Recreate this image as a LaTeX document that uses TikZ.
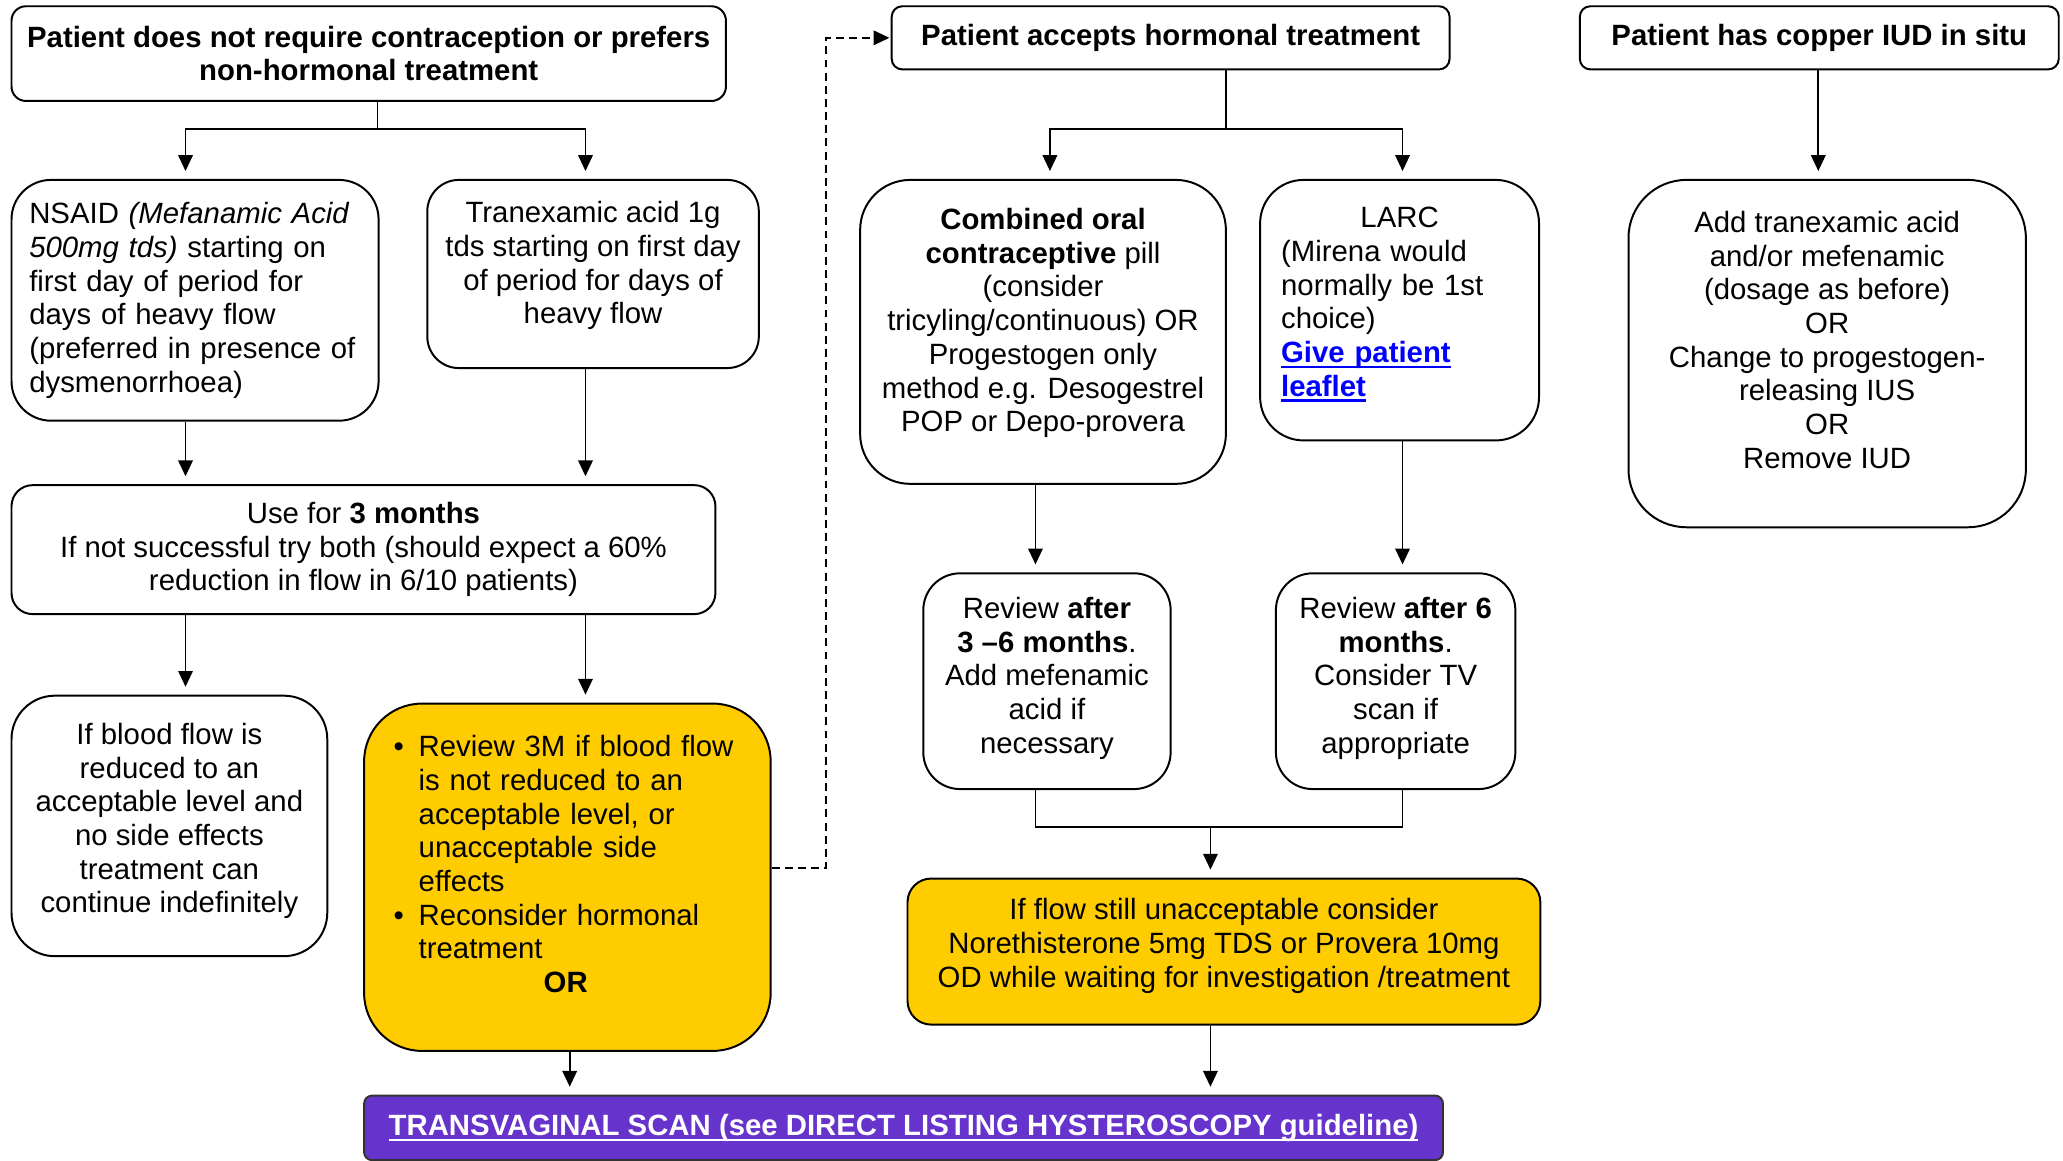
\documentclass[tikz,border=0pt]{standalone}
\usepackage{fontspec}
\setmainfont{Liberation Sans}
\usetikzlibrary{arrows.meta,positioning}

\definecolor{amber}{RGB}{255,204,0}
\definecolor{scanpurple}{RGB}{102,51,204}
\definecolor{linkblue}{RGB}{0,0,255}

% underline sitting just under the baseline
\newcommand{\undl}[1]{\setbox0\hbox{#1}\rlap{\rule[-2.2pt]{\wd0}{0.9pt}}\box0}
% extra depth on the last line lifts the text in its box
\newcommand{\liftup}[1]{\rule[-#1]{0pt}{#1}}
\newcommand{\bulitem}{\makebox[9.5pt][l]{\textbullet}}
\newcommand{\bulind}{\hspace*{9.5pt}}

\begin{document}
\fontsize{11.15}{12.8}\selectfont
\begin{tikzpicture}[
        x=0.5pt, y=-0.5pt,
        flow box/.style={
            draw,
            line width=0.75pt,
            rounded corners=#1,
            inner sep=0pt,
            align=center,
            anchor=north west,
        },
        flow box/.default=8pt,
        hi box/.style={
            flow box=#1,
            fill=amber,
        },
        scan box/.style={
            flow box=3pt,
            draw=black!80,
            fill=scanpurple,
            text=white,
            font=\bfseries,
        },
        pil/.style={
            -{Triangle[length=6pt,width=5.5pt]},
            line width=0.65pt,
            shorten >=3pt
        },
        dash pil/.style={
            pil,
            dash pattern=on 3pt off 2pt,
            shorten >=0.5pt
        },
        lin/.style={line width=0.65pt}
    ]
    \useasboundingbox (0,0) rectangle (1568,882);

    % non-hormonal route
    \node[flow box=5.5pt, minimum width=271.5pt, minimum height=36pt, font=\bfseries] (nohorm) at (8,4)
        {Patient does not require contraception or prefers\\non-hormonal treatment};
    \node[flow box=15pt, minimum width=139.5pt, minimum height=91.5pt, text width=126pt, align=left] (nsaid) at (8,136)
        {NSAID \textit{(Mefanamic Acid}\\\textit{500mg tds)} starting on\\first day of period for\\days of heavy flow\\(preferred in presence of\\dysmenorrhoea)};
    \node[flow box=12pt, minimum width=126pt, minimum height=71.5pt] (tranex) at (324,136)
        {Tranexamic acid 1g\\tds starting on first day\\of period for days of\\heavy flow\liftup{8.5pt}};
    \node[flow box=8pt, minimum width=267.5pt, minimum height=49pt] (threemonths) at (8,368)
        {Use for \textbf{3 months}\\If not successful try both (should expect a 60\%\\reduction in flow in 6/10 patients)};
    \node[flow box=16.5pt, minimum width=120pt, minimum height=99pt] (reduced) at (8,528)
        {If blood flow is\\reduced to an\\acceptable level and\\no side effects\\treatment can\\continue indefinitely\liftup{6pt}};
    \node[hi box=22pt, minimum width=154.5pt, minimum height=132pt, text width=132pt, align=left] (reviewthree) at (276,534)
        {\bulitem Review 3M if blood flow\\
         \bulind is not reduced to an\\
         \bulind acceptable level, or\\
         \bulind unacceptable side\\
         \bulind effects\\
         \bulitem Reconsider hormonal\\
         \bulind treatment\\
         \hspace*{57pt}\textbf{OR}\liftup{10pt}};

    % hormonal route
    \node[flow box=4pt, minimum width=212pt, minimum height=24pt, font=\bfseries] (hormonal) at (677,4)
        {Patient accepts hormonal treatment};
    \node[flow box=19pt, minimum width=139pt, minimum height=115.5pt] (coc) at (653,136)
        {\textbf{Combined oral}\\\textbf{contraceptive} pill\\(consider\\tricyling/continuous) OR\\Progestogen only\\method e.g. Desogestrel\\POP or Depo-provera\liftup{9pt}};
    \node[flow box=16.5pt, minimum width=106pt, minimum height=99pt, text width=90pt, align=left] (larc) at (957,136)
        {\makebox[90pt]{LARC}\\(Mirena would\\normally be 1st\\choice)\\
         \textcolor{linkblue}{\textbf{\undl{Give patient}}}\\
         \textcolor{linkblue}{\textbf{\undl{leaflet}}}\liftup{6.5pt}};
    \node[flow box=14pt, minimum width=94pt, minimum height=82pt] (reviewcoc) at (701,435)
        {Review \textbf{after}\\\textbf{3 --6 months}.\\Add mefenamic\\acid if\\necessary\liftup{4.5pt}};
    \node[flow box=14pt, minimum width=91pt, minimum height=82pt] (reviewlarc) at (969,435)
        {Review \textbf{after 6}\\\textbf{months}.\\Consider TV\\scan if\\appropriate\liftup{4.5pt}};
    \node[hi box=9pt, minimum width=240.5pt, minimum height=55.5pt] (stillheavy) at (689,667)
        {If flow still unacceptable consider\\Norethisterone 5mg TDS or Provera 10mg\\OD while waiting for investigation /treatment\liftup{6.5pt}};

    % copper IUD route
    \node[flow box=4pt, minimum width=182pt, minimum height=24pt, font=\bfseries] (copper) at (1200,4)
        {Patient has copper IUD in situ};
    \node[flow box=22pt, minimum width=151pt, minimum height=132pt] (addtranex) at (1237,136)
        {Add tranexamic acid\\and/or mefenamic\\(dosage as before)\\OR\\Change to progestogen-\\releasing IUS\\OR\\Remove IUD\liftup{10.5pt}};

    % common end point
    \node[scan box, minimum width=410pt, minimum height=24.5pt] (tvscan) at (276,832)
        {\undl{TRANSVAGINAL SCAN (see DIRECT LISTING HYSTEROSCOPY guideline)}};

    % columns of the connectors
    \coordinate (stemA) at (287,0);
    \coordinate (colA) at (141,0);
    \coordinate (colB) at (445,0);
    \coordinate (colC) at (433,0);
    \coordinate (stemB) at (932,0);
    \coordinate (colD) at (798,0);
    \coordinate (colE) at (787,0);
    \coordinate (colF) at (1066,0);
    \coordinate (colG) at (920,0);
    \coordinate (colH) at (1382,0);
    \coordinate (dashcol) at (628,0);

    \draw[pil] (nohorm.south -| stemA) -- ++(0,20.5) -| (nsaid.north -| colA);
    \draw[pil] (nohorm.south -| stemA) -- ++(0,20.5) -| (tranex.north -| colB);
    \draw[pil] (nsaid.south -| colA) -- (threemonths.north -| colA);
    \draw[pil] (tranex.south -| colB) -- (threemonths.north -| colB);
    \draw[pil] (threemonths.south -| colA) -- (reduced.north -| colA);
    \draw[pil] (threemonths.south -| colB) -- (reviewthree.north -| colB);
    \draw[pil] (reviewthree.south -| colC) -- (tvscan.north -| colC);
    \draw[dash pil] ([yshift=3.5pt]reviewthree.east) -| (hormonal.west -| dashcol) -- (hormonal.west);

    \draw[pil] (hormonal.south -| stemB) -- ++(0,44.5) -| (coc.north -| colD);
    \draw[pil] (hormonal.south -| stemB) -- ++(0,44.5) -| (larc.north -| colF);
    \draw[pil] (coc.south -| colE) -- (reviewcoc.north -| colE);
    \draw[pil] (larc.south -| colF) -- (reviewlarc.north -| colF);
    \draw[lin] (reviewcoc.south -| colE) -- ++(0,28) coordinate (merge) -| (reviewlarc.south -| colF);
    \draw[pil] (merge -| colG) -- (stillheavy.north -| colG);
    \draw[pil] (stillheavy.south -| colG) -- (tvscan.north -| colG);

    \draw[pil] (copper.south -| colH) -- (addtranex.north -| colH);
\end{tikzpicture}
\end{document}
